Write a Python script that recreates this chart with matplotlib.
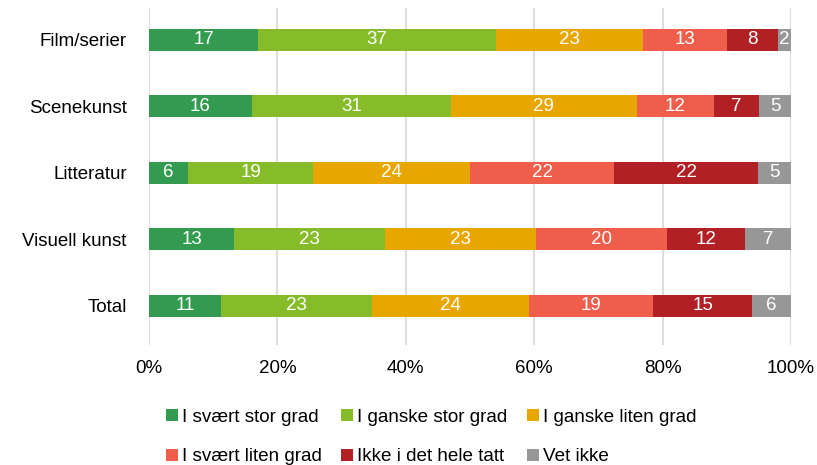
import matplotlib.pyplot as plt
import numpy as np

plt.rcParams['font.family'] = ['Liberation Sans', 'DejaVu Sans']

# Data
categories = ['Film/serier', 'Scenekunst', 'Litteratur', 'Visuell kunst', 'Total']
series = ['I svært stor grad', 'I ganske stor grad', 'I ganske liten grad',
          'I svært liten grad', 'Ikke i det hele tatt', 'Vet ikke']
svaert_stor = [17, 16, 6, 13, 11]
ganske_stor = [37, 31, 19, 23, 23]
ganske_liten = [23, 29, 24, 23, 24]
svaert_liten = [13, 12, 22, 20, 19]
ikke = [8, 7, 22, 12, 15]
vet_ikke = [2, 5, 5, 7, 6]
colors = ['#339b4f', '#86bc2a', '#e8a600', '#ee5e4b', '#b02025', '#979797']

values = np.array([svaert_stor, ganske_stor, ganske_liten, svaert_liten, ikke, vet_ikke], dtype=float)
shares = values / values.sum(axis=0) * 100

fig = plt.figure(figsize=(8.17, 4.65), dpi=100)
ax = fig.add_axes([0.1824, 0.258, 0.7858, 0.725])

y = np.arange(len(categories))
left = np.zeros(len(categories))
handles = []
for i, name in enumerate(series):
    bars = ax.barh(y, shares[i], left=left, height=0.335, color=colors[i],
                   label=name, zorder=3)
    handles.append(bars)
    for j, b in enumerate(bars):
        ax.text(left[j] + shares[i][j] / 2, y[j], f'{int(values[i][j])}',
                ha='center', va='center', color='white', fontsize=13.5, zorder=4)
    left += shares[i]

ax.set_xlim(0, 100)
ax.set_ylim(4.59, -0.48)
ax.set_yticks(y)
ax.set_yticklabels(categories, fontsize=13.5)
ax.set_xticks(range(0, 101, 20))
ax.set_xticklabels([f'{t}%' for t in range(0, 101, 20)], fontsize=13.5)
ax.tick_params(axis='y', length=0, pad=16)
ax.tick_params(axis='x', length=0, pad=11)
ax.grid(axis='x', color='#dddddd', linewidth=1.5, zorder=0)
for s in ax.spines.values():
    s.set_visible(False)

# legend filled row by row
order = [0, 3, 1, 4, 2, 5]
fig.legend([handles[k] for k in order], [series[k] for k in order],
           loc='upper left', bbox_to_anchor=(0.203, 0.121), ncol=3, frameon=False,
           fontsize=13.6, handlelength=0.62, handleheight=0.62, handletextpad=0.22,
           columnspacing=1.05, labelspacing=1.2, borderpad=0, borderaxespad=0)

fig.savefig('out.png', dpi=100)
